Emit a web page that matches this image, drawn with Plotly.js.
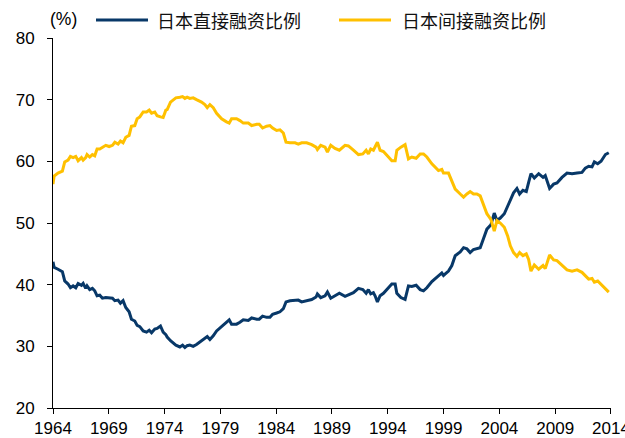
<!DOCTYPE html>
<html>
<head>
<meta charset="utf-8">
<script src="https://cdn.plot.ly/plotly-3.0.1.min.js"></script>
<style>html,body{margin:0;padding:0;background:#fff;}#chart{width:625px;height:438px;}</style>
</head>
<body>
<div id="chart"></div>
<script>
// Time (decimal years) of each observation
var years = [1964.00,1964.10,1964.45,1964.84,1965.05,1965.35,1965.56,1965.80,1966.04,1966.25,1966.55,1966.70,1966.93,1967.05,1967.29,1967.53,1967.74,1967.95,1968.19,1968.43,1968.73,1969.03,1969.33,1969.54,1969.83,1970.04,1970.28,1970.52,1970.82,1971.03,1971.33,1971.54,1971.78,1972.08,1972.38,1972.62,1972.83,1973.12,1973.33,1973.63,1973.87,1974.11,1974.23,1974.53,1975.01,1975.37,1975.61,1975.82,1976.02,1976.26,1976.56,1976.86,1977.31,1977.61,1977.82,1978.06,1978.36,1978.66,1979.11,1979.55,1979.79,1980.00,1980.45,1980.75,1981.05,1981.50,1981.80,1982.25,1982.48,1982.78,1983.14,1983.44,1983.68,1984.04,1984.34,1984.64,1984.88,1985.24,1985.69,1985.98,1986.28,1986.73,1987.18,1987.57,1987.69,1987.99,1988.38,1988.59,1988.89,1989.27,1989.66,1990.17,1990.47,1990.92,1991.37,1991.76,1992.06,1992.26,1992.47,1992.71,1992.86,1993.07,1993.31,1993.61,1994.06,1994.36,1994.66,1994.81,1995.17,1995.55,1995.85,1996.15,1996.54,1996.90,1997.20,1997.50,1997.95,1998.25,1998.54,1998.84,1998.99,1999.44,1999.74,2000.04,2000.49,2000.79,2001.09,2001.38,2001.68,2001.98,2002.28,2002.58,2002.88,2003.24,2003.54,2003.78,2004.08,2004.44,2004.74,2004.98,2005.27,2005.57,2005.81,2006.11,2006.41,2006.62,2006.83,2007.13,2007.52,2007.91,2008.11,2008.50,2008.86,2009.16,2009.61,2010.06,2010.51,2010.96,2011.40,2011.70,2012.00,2012.30,2012.51,2012.81,2013.11,2013.50,2013.80];

// 日本直接融资比例 (%)
var directRatio = [43.7,42.8,42.5,42.1,40.6,40.1,39.5,39.8,39.5,40.2,39.9,40.2,39.4,39.8,39.2,39.4,39.0,38.2,38.3,37.8,37.9,37.9,37.8,37.4,37.5,37.0,37.4,36.3,35.6,34.4,34.1,33.4,33.2,32.5,32.3,32.6,32.2,32.8,32.9,33.3,32.3,31.9,31.5,30.9,30.2,29.9,30.2,29.8,30.1,30.2,30.0,30.3,30.9,31.3,31.6,31.1,31.7,32.5,33.2,34.0,34.3,33.6,33.6,33.9,34.3,34.2,34.6,34.4,34.4,34.9,34.7,34.7,35.2,35.4,35.6,36.1,37.2,37.4,37.4,37.5,37.2,37.4,37.6,38.0,38.5,37.9,38.2,38.8,37.8,38.2,38.6,38.1,38.3,38.7,39.4,39.2,38.6,39.2,38.5,38.7,38.2,37.2,38.2,38.6,39.5,40.1,40.1,38.6,37.9,37.6,39.8,39.7,39.9,39.2,39.0,39.5,40.5,41.0,41.5,41.9,41.5,42.2,43.1,44.7,45.3,46.0,45.8,45.2,45.7,45.8,46.0,47.5,49.0,49.7,51.6,50.4,50.8,51.5,52.8,53.9,54.9,55.6,54.7,55.3,55.1,56.6,58.0,57.3,58.0,57.4,57.7,55.6,56.3,56.5,57.4,58.1,58.0,58.1,58.2,58.9,59.2,59.1,59.9,59.6,60.0,61.1,61.4];

// 日本间接融资比例 (%)
var indirectRatio = [56.3,57.6,58.1,58.4,59.9,60.2,60.8,60.6,60.8,60.1,60.6,60.2,60.6,61.1,60.7,61.1,60.9,62.0,62.0,62.3,62.6,62.4,62.6,63.1,62.8,63.3,63.0,63.9,64.2,65.7,65.8,66.9,67.2,68.0,68.0,68.3,67.8,68.0,67.4,67.2,67.1,68.3,68.4,69.6,70.3,70.4,70.5,70.2,70.4,70.2,70.3,70.0,69.6,69.2,68.7,69.2,68.7,67.8,66.9,66.4,66.2,66.9,66.9,66.6,66.2,66.2,65.8,66.0,66.0,65.4,65.7,65.8,65.4,65.0,65.1,64.6,63.1,63.0,63.0,62.8,63.0,63.0,62.7,62.3,61.9,62.6,62.3,61.5,62.6,62.1,61.8,62.6,62.5,61.8,61.1,61.2,61.8,61.2,62.0,61.8,62.3,63.1,61.8,61.6,60.7,60.1,60.1,61.8,62.3,62.7,60.4,60.7,60.5,61.2,61.2,60.7,59.6,59.1,58.5,58.7,58.1,58.1,56.9,55.5,54.7,54.2,54.7,55.1,54.7,54.7,54.4,53.1,51.5,50.6,48.7,50.4,50.0,49.3,47.9,46.3,45.2,44.6,45.2,44.7,45.0,44.1,42.2,43.2,42.5,43.1,42.6,44.8,44.0,43.9,43.2,42.4,42.2,42.4,42.0,41.4,40.9,41.0,40.4,40.6,40.1,39.3,38.8];

var seriesNames = ['日本直接融资比例', '日本间接融资比例'];
var yUnit = '(%)';

var NAVY = '#083868';
var GOLD = '#ffc000';

var traces = [
  {x: years, y: directRatio, name: seriesNames[0], type: 'scatter', mode: 'lines',
   line: {color: NAVY, width: 3}, showlegend: false, hoverinfo: 'x+y'},
  {x: years, y: indirectRatio, name: seriesNames[1], type: 'scatter', mode: 'lines',
   line: {color: GOLD, width: 3}, showlegend: false, hoverinfo: 'x+y'}
];

// plot area in pixels
var L = 53, R = 14, T = 38, B = 30, W = 625, H = 438;
var pw = W - L - R, ph = H - T - B;
function px(x) { return (x - L) / pw; }
function py(y) { return (H - B - y) / ph; }

var tickFont = {family: 'Liberation Sans, Arial, sans-serif', size: 17, color: '#000'};
var legFont = {family: 'Noto Sans CJK SC, sans-serif', size: 18, color: '#111'};

var layout = {
  width: W, height: H,
  margin: {l: L, r: R, t: T, b: B, pad: 0},
  paper_bgcolor: '#fff', plot_bgcolor: '#fff',
  showlegend: false,
  xaxis: {
    type: 'linear', range: [1964, 2014.001], tick0: 1964, dtick: 5,
    showgrid: false, zeroline: false, showline: true, linecolor: '#000', linewidth: 1,
    ticks: 'outside', ticklen: 5, tickcolor: '#000', tickwidth: 1,
    tickfont: tickFont, ticklabelstandoff: 0, ticklabeloverflow: 'allow', fixedrange: true
  },
  yaxis: {
    range: [20, 80], tick0: 20, dtick: 10,
    showgrid: false, zeroline: false, showline: true, linecolor: '#000', linewidth: 1,
    ticks: 'outside', ticklen: 5, tickcolor: '#000', tickwidth: 1,
    tickfont: tickFont, ticklabelstandoff: 9, fixedrange: true
  },
  shapes: [
    {type: 'line', xref: 'paper', yref: 'paper', x0: px(96), x1: px(148), y0: py(20), y1: py(20),
     line: {color: NAVY, width: 3}},
    {type: 'line', xref: 'paper', yref: 'paper', x0: px(339), x1: px(391), y0: py(20), y1: py(20),
     line: {color: GOLD, width: 3}}
  ],
  annotations: [
    {text: yUnit, xref: 'paper', yref: 'paper', x: px(48), y: py(19), xanchor: 'left', yanchor: 'middle',
     showarrow: false, font: {family: 'Liberation Sans, Arial, sans-serif', size: 17.5, color: '#000'}},
    {text: seriesNames[0], xref: 'paper', yref: 'paper', x: px(155), y: py(20), xanchor: 'left', yanchor: 'middle',
     showarrow: false, font: legFont},
    {text: seriesNames[1], xref: 'paper', yref: 'paper', x: px(400), y: py(20), xanchor: 'left', yanchor: 'middle',
     showarrow: false, font: legFont}
  ]
};

Plotly.newPlot('chart', traces, layout, {staticPlot: true, displayModeBar: false});
</script>
</body>
</html>
